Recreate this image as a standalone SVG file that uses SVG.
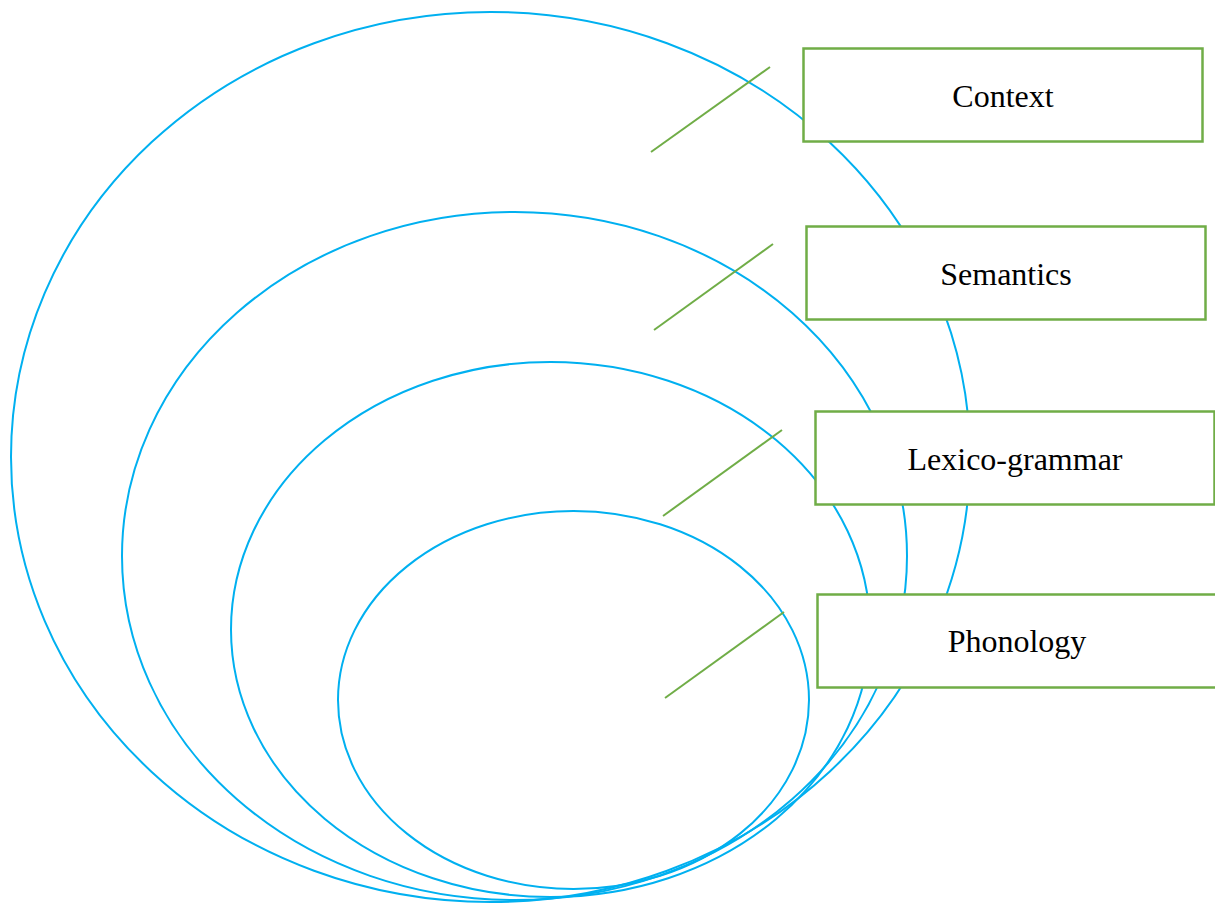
<svg xmlns="http://www.w3.org/2000/svg" width="1215" height="903" viewBox="0 0 1215 903">
<style>
.ring{fill:none;stroke:#00B0F0;stroke-width:2}
.box{fill:#FFFFFF;stroke:#70AD47;stroke-width:2.5}
.lead{stroke:#70AD47;stroke-width:2;fill:none}
.lbl{font-family:"Liberation Serif","Times New Roman",serif;font-size:32px;fill:#000;text-anchor:middle;dominant-baseline:central}
</style>
<rect width="1215" height="903" fill="#FFFFFF"/>
<g id="rings">
<ellipse id="ring-context" class="ring" cx="490.5" cy="457" rx="479.5" ry="445"/>
<ellipse id="ring-semantics" class="ring" cx="514.5" cy="556" rx="392.5" ry="344"/>
<ellipse id="ring-lexicogrammar" class="ring" cx="550.5" cy="629.5" rx="319.5" ry="267.5"/>
<ellipse id="ring-phonology" class="ring" cx="573.5" cy="700" rx="235.5" ry="189"/>
</g>
<g id="connectors">
<line class="lead" x1="651" y1="152" x2="770" y2="67"/>
<line class="lead" x1="654" y1="330" x2="773" y2="244"/>
<line class="lead" x1="663" y1="516" x2="782" y2="430"/>
<line class="lead" x1="665" y1="698" x2="784" y2="612"/>
</g>
<g id="node-context">
<rect class="box" x="803.5" y="48.5" width="399" height="93"/>
<text class="lbl" x="1003" y="96">Context</text>
</g>
<g id="node-semantics">
<rect class="box" x="806.5" y="226.5" width="399" height="93"/>
<text class="lbl" x="1006" y="274">Semantics</text>
</g>
<g id="node-lexicogrammar">
<rect class="box" x="815.5" y="411.5" width="399" height="93"/>
<text class="lbl" x="1015" y="459">Lexico-grammar</text>
</g>
<g id="node-phonology">
<rect class="box" x="817.5" y="594.5" width="399" height="93"/>
<text class="lbl" x="1017" y="641">Phonology</text>
</g>
</svg>
